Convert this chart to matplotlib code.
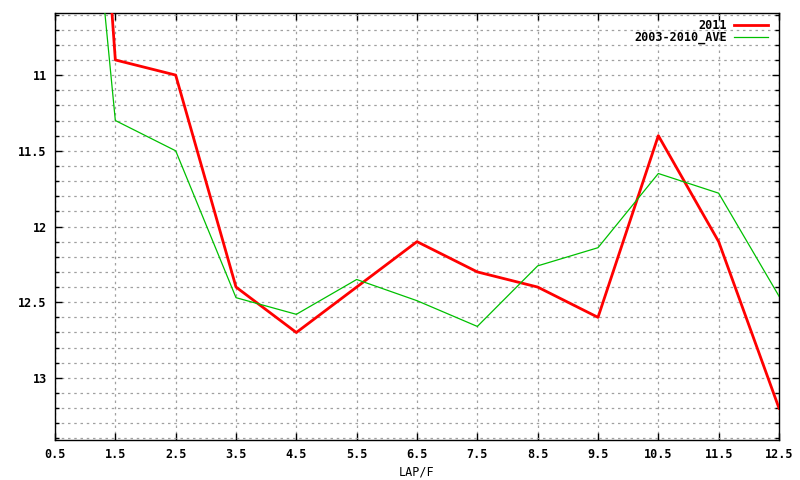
import numpy as np
import matplotlib
matplotlib.use('Agg')
import matplotlib.pyplot as plt
from matplotlib.ticker import MultipleLocator

laps = [0.5, 1.5, 2.5, 3.5, 4.5, 5.5, 6.5, 7.5, 8.5, 9.5, 10.5, 11.5, 12.5]
y2011 = [5.3, 10.9, 11.0, 12.4, 12.7, 12.4, 12.1, 12.3, 12.4, 12.6, 11.4, 12.1, 13.2]
yave = [7.2, 11.3, 11.5, 12.47, 12.58, 12.35, 12.49, 12.66, 12.26, 12.14, 11.65, 11.78, 12.46]
xticks = [0.5, 1.5, 2.5, 3.5, 4.5, 5.5, 6.5, 7.5, 8.5, 9.5, 10.5, 11.5, 12.5]
yticks = [11, 11.5, 12, 12.5, 13]

plt.rcParams['font.family'] = ['DejaVu Sans Mono']
plt.rcParams['font.weight'] = 'bold'
plt.rcParams['font.size'] = 8.5

fig = plt.figure(figsize=(8, 4.8), dpi=100)
ax = fig.add_axes([55/800, 40/480, 724/800, 427/480])

ax.plot(laps, y2011, color='#ff0000', lw=2.0, label='2011', zorder=3)
ax.plot(laps, yave, color='#00c000', lw=0.9, label='2003-2010_AVE', zorder=3)

ax.set_xlim(0.5, 12.5)
ax.set_ylim(13.41, 10.59)
ax.set_xticks(xticks)
ax.set_xticklabels([('%g' % v) for v in xticks])
ax.set_yticks(yticks)
ax.set_yticklabels([('%g' % v) for v in yticks])
ax.yaxis.set_minor_locator(MultipleLocator(0.1))

ax.tick_params(axis='both', which='both', direction='in', top=True, right=True,
               colors='black', width=1.0)
ax.tick_params(axis='both', which='major', length=5)
ax.tick_params(axis='y', which='minor', length=3)
ax.tick_params(axis='y', which='major', pad=6)
ax.tick_params(axis='x', which='major', pad=6)

ax.grid(True, which='major', axis='x', color='#a0a0a0', ls=(0, (2, 3)), lw=0.9)
ax.grid(True, which='both', axis='y', color='#a0a0a0', ls=(0, (2, 3)), lw=0.9)
for sp in ax.spines.values():
    sp.set_linewidth(1.0)
    sp.set_color('black')

ax.set_xlabel('LAP/F', labelpad=3)

leg = ax.legend(loc='upper right', frameon=False, markerfirst=False,
                handlelength=2.9, borderaxespad=0.0, labelspacing=-0.1,
                handletextpad=0.6, borderpad=0.0,
                bbox_to_anchor=(768/800, 1 - 19/480),
                bbox_transform=fig.transFigure)

fig.savefig('out.png', dpi=100)
